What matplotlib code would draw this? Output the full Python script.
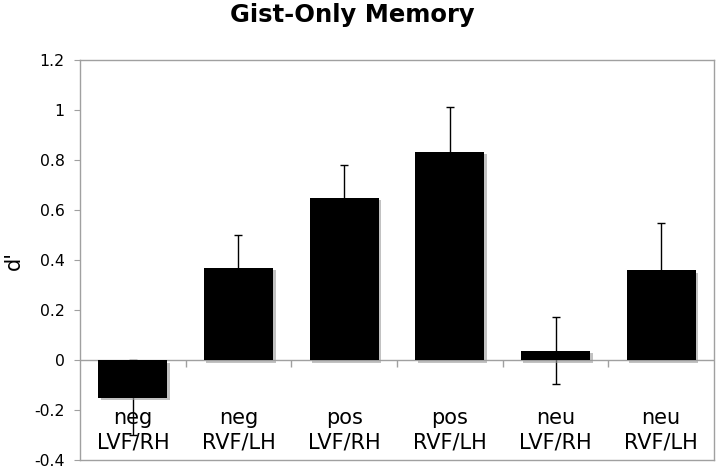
import matplotlib
matplotlib.use("Agg")
import matplotlib.pyplot as plt
import matplotlib.patheffects as pe
import numpy as np

categories = ["neg\nLVF/RH", "neg\nRVF/LH", "pos\nLVF/RH", "pos\nRVF/LH", "neu\nLVF/RH", "neu\nRVF/LH"]
values = [-0.15, 0.37, 0.65, 0.833, 0.038, 0.36]
errors = [0.15, 0.13, 0.13, 0.18, 0.135, 0.19]
yticks = [-0.4, -0.2, 0, 0.2, 0.4, 0.6, 0.8, 1, 1.2]
ytick_labels = ["-0.4", "-0.2", "0", "0.2", "0.4", "0.6", "0.8", "1", "1.2"]

W, H = 717, 470
L, R, T, B = 80, 714, 60, 460
fig = plt.figure(figsize=(W / 100, H / 100), dpi=100)
ax = fig.add_axes([L / W, 1 - B / H, (R - L) / W, (B - T) / H])

x = np.arange(len(categories))
ax.errorbar(x, values, yerr=errors, fmt="none", ecolor="black", elinewidth=1,
            capsize=2.7, capthick=1, zorder=2.5)
bars = ax.bar(x, values, width=0.655, color="black", zorder=3)
for b in bars:
    b.set_path_effects([pe.SimplePatchShadow(offset=(1.8, -1.8), shadow_rgbFace="#9a9a9a", alpha=0.6),
                        pe.Normal()])

ax.axhline(0, color="#a0a0a0", lw=1, zorder=2)
ax.vlines(np.arange(len(categories) - 1) + 0.5, -0.028, 0, color="#a0a0a0", lw=1, zorder=2)

for xi, lab in zip(x, categories):
    ax.text(xi, -0.28, lab, ha="center", va="center", fontsize=15, linespacing=1.3, zorder=5)

ax.set_xlim(-0.5, len(categories) - 0.5)
ax.set_ylim(-0.4, 1.2)
ax.set_xticks([])
ax.set_yticks(yticks)
ax.set_yticklabels(ytick_labels, fontsize=11.3)
ax.tick_params(axis="y", length=4.5, color="#a0a0a0", pad=6.5)
for s in ax.spines.values():
    s.set_color("#a0a0a0")
    s.set_linewidth(1)

ax.set_ylabel("d'", fontsize=15)
ax.yaxis.set_label_coords(-0.088, 0.5)
fig.text(352 / W, 1 - 15 / H, "Gist-Only Memory", ha="center", va="center",
         fontsize=17.5, fontweight="bold")

fig.savefig("out.png", dpi=100)
